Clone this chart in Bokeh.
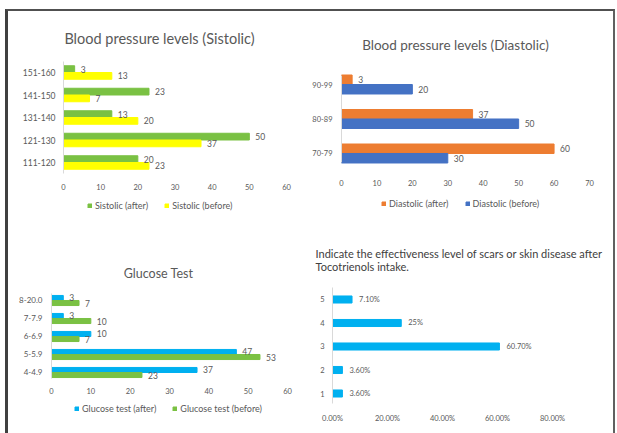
from bokeh.plotting import figure
from bokeh.models import (ColumnDataSource, Range1d, FixedTicker, Legend, LegendItem, Label,
                          NumeralTickFormatter)
from bokeh.layouts import column, row
from bokeh.core.properties import value
from bokeh.embed import file_html
from bokeh.resources import INLINE

# ---------------- data ----------------
sis_cats = ["111-120", "121-130", "131-140", "141-150", "151-160"]
sis_after = [20, 50, 13, 23, 3]
sis_before = [23, 37, 20, 7, 13]

dia_cats = ["70-79", "80-89", "90-99"]
dia_after = [60, 37, 3]
dia_before = [30, 50, 20]

glu_cats = ["4-4.9", "5-5.9", "6-6.9", "7-7.9", "8-20.0"]
glu_after = [37, 47, 10, 3, 3]
glu_before = [23, 53, 7, 10, 7]

eff_cats = ["1", "2", "3", "4", "5"]
eff_vals = [0.036, 0.036, 0.607, 0.25, 0.071]
eff_labels = ["3.60%", "3.60%", "60.70%", "25%", "7.10%"]

GREEN = "#7AC143"
YELLOW = "#FFFF00"
ORANGE = "#ED7D31"
BLUE = "#4472C4"
CYAN = "#00B0F0"
FONT = "Lato"
GRAY = "#595959"


def quad(w, h, xr, yr, cats, xticks, xaxis_y, ybounds, xstand, ystand, ysize="8.5px"):
    p = figure(width=w, height=h, x_range=Range1d(*xr), y_range=Range1d(*yr),
               output_backend="svg", toolbar_location=None,
               min_border_left=0, min_border_right=0, min_border_top=0, min_border_bottom=0)
    p.outline_line_color = None
    p.xgrid.grid_line_color = None
    p.ygrid.grid_line_color = None
    xa, ya = p.xaxis[0], p.yaxis[0]
    xa.fixed_location = xaxis_y
    ya.fixed_location = 0
    xa.ticker = FixedTicker(ticks=xticks)
    xa.axis_line_color = None
    ya.ticker = FixedTicker(ticks=list(range(len(cats))))
    ya.major_label_overrides = {i: c for i, c in enumerate(cats)}
    ya.bounds = ybounds
    ya.axis_line_color = "#d9d9d9"
    for ax in (xa, ya):
        ax.major_tick_line_color = None
        ax.minor_tick_line_color = None
        ax.major_tick_out = 0
        ax.major_tick_in = 0
        ax.minor_tick_out = 0
        ax.major_label_text_font = FONT
        ax.major_label_text_color = GRAY
    xa.major_label_text_font_size = "7.5px"
    ya.major_label_text_font_size = ysize
    xa.major_label_standoff = xstand
    ya.major_label_standoff = ystand
    return p


def title(p, text, x, y, size, align="center", color=GRAY):
    p.add_layout(Label(x=x, y=y, x_units="screen", y_units="screen", text=text,
                       text_align=align, text_baseline="middle", text_font=FONT,
                       text_font_size=size, text_color=color))


def pair(p, cats, a, b, ca, cb, la, lb, hgt, lx, ly):
    idx = list(range(len(cats)))
    src = ColumnDataSource(dict(ya=[i + hgt / 2 for i in idx], yb=[i - hgt / 2 for i in idx],
                                a=a, b=b, ta=[str(v) for v in a], tb=[str(v) for v in b]))
    ra = p.hbar(y="ya", right="a", height=hgt, color=ca, source=src)
    rb = p.hbar(y="yb", right="b", height=hgt, color=cb, source=src)
    for col, t, yc in (("a", "ta", "ya"), ("b", "tb", "yb")):
        p.text(x=col, y=yc, text=t, source=src, x_offset=6, text_baseline="middle",
               text_align="left", text_font=value(FONT), text_font_size="8.5px", text_color=GRAY)
    leg = Legend(items=[LegendItem(label=la, renderers=[ra]), LegendItem(label=lb, renderers=[rb])],
                 orientation="horizontal", location=(lx, ly), border_line_color=None,
                 background_fill_alpha=0, glyph_width=5, glyph_height=5, label_text_font=FONT,
                 label_text_font_size="9px", label_text_color=GRAY, label_height=8,
                 label_standoff=3, spacing=16, padding=0, margin=0)
    p.add_layout(leg)


# Panel 1: systolic (quadrant 300 x 217)
p1 = quad(300, 217, (-14.80, 65.92), (-2.933, 6.711), sis_cats, list(range(0, 61, 10)),
          -0.489, (-0.489, 4.489), 10, 8)
title(p1, "Blood pressure levels (Sistolic)", 151, 190, "14.5px")
pair(p1, sis_cats, sis_after, sis_before, GREEN, YELLOW, "Sistolic (after)", "Sistolic (before)",
     0.3, 79, 17)

# Panel 2: diastolic (quadrant 305 x 217)
p2 = quad(305, 217, (-9.314, 76.774), (-2.174, 4.116), dia_cats, list(range(0, 71, 10)),
          -0.261, (-0.261, 2.261), 17, 9, ysize="7.5px")
title(p2, "Blood pressure levels (Diastolic)", 147, 184, "13.5px")
pair(p2, dia_cats, dia_after, dia_before, ORANGE, BLUE, "Diastolic (after)", "Diastolic (before)",
     0.275, 73, 19)

# Panel 3: glucose (quadrant 300 x 205)
p3 = quad(300, 205, (-10.932, 65.339), (-3.389, 8.0), glu_cats, list(range(0, 61, 10)),
          -0.333, (-0.333, 4.389), 10, 9, ysize="8px")
title(p3, "Glucose Test", 150, 160, "12.5px")
pair(p3, glu_cats, glu_after, glu_before, CYAN, GREEN, "Glucose test (after)", "Glucose test (before)",
     0.28, 66, 19)

# Panel 4: effectiveness (quadrant 305 x 205)
p4 = quad(305, 205, (-0.0873, 1.0218), (-1.702, 7.021), eff_cats, [0, 0.2, 0.4, 0.6, 0.8],
          -0.426, (-0.426, 4.511), 10, 8, ysize="7.5px")
p4.xaxis.formatter = NumeralTickFormatter(format="0.00%")
src4 = ColumnDataSource(dict(y=list(range(len(eff_cats))), v=eff_vals, t=eff_labels))
p4.hbar(y="y", right="v", height=0.3, color=CYAN, source=src4)
p4.text(x="v", y="y", text="t", source=src4, x_offset=7, text_baseline="middle",
        text_font=value(FONT), text_font_size="7.5px", text_color=GRAY)
title(p4, "Indicate the effectiveness level of scars or skin disease after", 7, 180, "11px",
      align="left", color="#404040")
title(p4, "Tocotrienols intake.", 7, 167, "11px", align="left", color="#404040")

layout = column(row(p1, p2), row(p3, p4),
                styles={"border-top": "2px solid #505050", "border-left": "3px solid #404040",
                        "border-right": "2px solid #606060"},
                margin=(9, 2, 0, 5))

open("out.html", "w").write(file_html(layout, INLINE))
